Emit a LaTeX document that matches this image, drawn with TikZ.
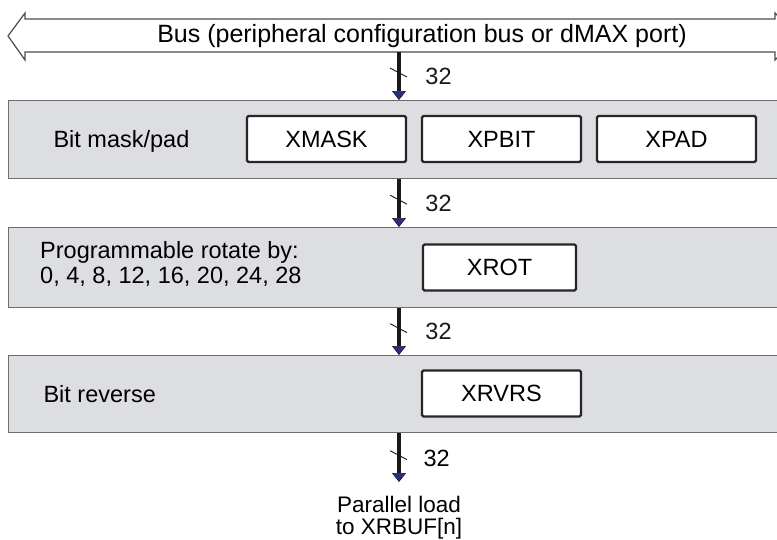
\documentclass[tikz,border=0pt]{standalone}
\usepackage{fontspec}
\setmainfont{Liberation Sans}
\usetikzlibrary{arrows.meta,calc}
\definecolor{panelgray}{RGB}{221,222,225}
\definecolor{framegray}{RGB}{110,110,110}
\definecolor{tipblue}{RGB}{40,45,140}

\begin{document}
\begin{tikzpicture}[x=1pt,y=-1pt,
  font=\fontsize{23.5}{26}\selectfont,
  panel/.style={draw=framegray, line width=1.3pt, fill=panelgray, anchor=north west, minimum width=800pt, inner sep=0pt},
  reg/.style={draw=black!85, line width=2.4pt, fill=white, rounded corners=1.5pt, minimum width=159pt, minimum height=46pt, inner sep=0pt},
  bits/.style={line width=4.2pt, black!90, -{Triangle[length=9pt,width=14pt,fill=tipblue,line width=0.6pt]}},
  slash/.style={line width=0.9pt, black!90},
  wlabel/.style={midway, anchor=west, xshift=21pt}]
\useasboundingbox (0,0) rectangle (777,539);
\clip (0,0) rectangle (777,539);

% bus
\draw[draw=black!70, line width=1.2pt, fill=white] (8,36) -- (25,13) -- (25,19) -- (775,19) -- (775,13) -- (798,36) -- (775,60) -- (775,52) -- (25,52) -- (25,60) -- cycle;
\node[font=\fontsize{25}{28}\selectfont] (bus) at (422,36) {Bus (peripheral configuration bus or dMAX port)};
\coordinate (tap) at (399,52);

% panels
\node[panel, minimum height=78pt] (maskpanel) at (8,100) {};
\node[panel, minimum height=80pt] (rotpanel) at (8,227) {};
\node[panel, minimum height=77pt] (revpanel) at (8,355) {};

\node[anchor=base west] (masktext) at (50,147) {Bit mask/pad};
\node[reg] (xmask) at (326.5,139) {XMASK};
\node[reg] (xpbit) at (501.5,139) {XPBIT};
\node[reg] (xpad) at (676.5,139) {XPAD};

\node[anchor=west, align=left, inner sep=0pt, font=\fontsize{23.5}{25}\selectfont] (rottext) at (40,264) {Programmable rotate by:\\0, 4, 8, 12, 16, 20, 24, 28};
\node[reg, minimum width=153pt] (xrot) at (499.5,267.5) {XROT};

\node[anchor=base west] (revtext) at (40,402) {Bit reverse};
\node[reg] (xrvrs) at (501.5,393.5) {XRVRS};

\node[anchor=north, align=center, inner sep=0pt, font=\fontsize{22.5}{21.5}\selectfont] (load) at (399,496) {Parallel load\\to XRBUF[n]};

% 32-bit paths
\draw[bits] (tap) -- (tap |- maskpanel.north) coordinate[midway] (m1) node[wlabel] {32};
\draw[bits] (tap |- maskpanel.south) -- (tap |- rotpanel.north) coordinate[midway] (m2) node[wlabel] {32};
\draw[bits] (tap |- rotpanel.south) -- (tap |- revpanel.north) coordinate[midway] (m3) node[wlabel] {32};
\draw[bits, shorten >=14pt] (tap |- revpanel.south) -- (load.north) coordinate[midway] (m4);
\node[anchor=west] (w4) at ($(m4)+(21,-6)$) {32};
\foreach \m in {m1,m2,m3}
  \draw[slash] ($(\m)+(-9,-8)$) -- ($(\m)+(8,1)$);
\draw[slash] ($(m4)+(-9,-14)$) -- ($(m4)+(8,-5)$);
\end{tikzpicture}
\end{document}
